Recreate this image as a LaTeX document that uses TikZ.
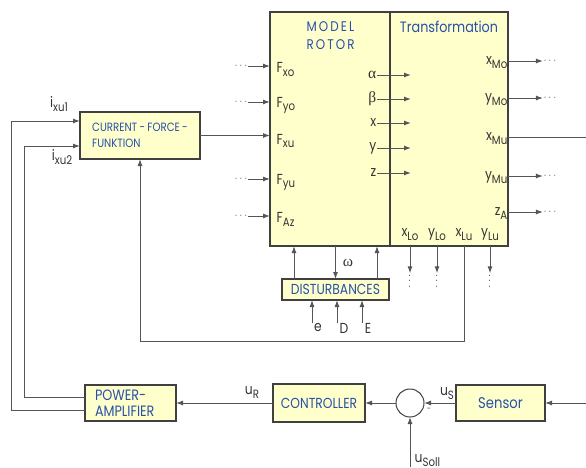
\documentclass[tikz,border=0pt]{standalone}
\usepackage{fontspec}
\setmainfont{Poppins}[FakeStretch=0.85]
\newfontfamily\bluefont{Poppins}[FakeStretch=0.85, WordSpace=0.85]
\newfontfamily\greekfont{Liberation Serif}
\usetikzlibrary{positioning,arrows.meta}
\definecolor{boxyellow}{RGB}{255,255,204}
\definecolor{textblue}{RGB}{40,80,170}
\definecolor{wiregray}{RGB}{85,85,85}
\newcommand{\lsub}[2]{#1\raisebox{-0.5ex}{\fontsize{12}{12}\selectfont #2}}

\begin{document}
\begin{tikzpicture}[
    x=1pt, y=-1pt,
    box/.style={draw=black!75, line width=1.6pt, fill=boxyellow, outer sep=0pt, inner sep=0pt, text=textblue, font=\bluefont\fontsize{14.5}{17}\selectfont},
    sig/.style={inner sep=0.5pt, text=black!80, font=\fontsize{14.5}{16}\selectfont},
    greek/.style={inner sep=0.5pt, text=black!80, font=\greekfont\fontsize{15.5}{16}\selectfont},
    arrow/.style={-{Latex[length=7pt,width=5pt]}, wiregray, line width=1pt},
    wire/.style={wiregray, line width=1pt},
]
\useasboundingbox (0,0) rectangle (586,467);

\node[box, minimum width=120pt, minimum height=234pt] (rotor) at (330,129) {};
\node[box, minimum width=118pt, minimum height=234pt, right=0pt of rotor] (trafo) {};
\node[anchor=west, align=left, text=textblue, font=\fontsize{14}{18}\selectfont\addfontfeature{LetterSpace=15}] (rotortitle) at (303,36) {MODEL\\ROTOR};
\node[text=textblue, font=\fontsize{15}{16}\selectfont] (trafotitle) at (449,27) {Transformation};

\node[box, minimum width=120pt, minimum height=47pt, align=left, font=\bluefont\fontsize{12}{16}\selectfont] (cf) at (140,135.5) {CURRENT - FORCE -\\FUNKTION};

\foreach \nm/\sb/\yy in {xo/xo/66, yo/yo/102, yu/yu/179, Az/Az/216}{
  \node[sig, text=black!65, font=\fontsize{11}{11}\selectfont] (dots\nm) at (241,\yy) {$\cdots$};
  \node[sig, anchor=west] (F\nm) at (276,\yy+3.5) {\lsub{F}{\sb}};
  \draw[arrow] (dots\nm) -- (dots\nm -| rotor.west);
}
\node[sig, anchor=west] (Fxu) at (276,141) {\lsub{F}{xu}};
\draw[arrow] (cf) -- (cf -| rotor.west);

\foreach \nm/\txt/\yy in {al/{α}/75, be/{β}/99}{
  \node[greek, anchor=east] (s\nm) at (377,\yy) {\txt};
  \coordinate (t\nm) at (411,\yy);
  \draw[arrow] (s\nm) -- (t\nm);
}
\foreach \nm/\yy in {x/123, y/148, z/173}{
  \node[sig, anchor=east] (s\nm) at (377,\yy) {\nm};
  \coordinate (t\nm) at (411,\yy);
  \draw[arrow] (s\nm) -- (t\nm);
}

\foreach \nm/\a/\b/\yy in {xMo/x/Mo/61, yMo/y/Mo/98, yMu/y/Mu/176, zA/z/A/212}{
  \node[sig, anchor=east] (\nm) at (508,\yy+1.5) {\lsub{\a}{\b}};
  \node[sig, text=black!65, font=\fontsize{11}{11}\selectfont] (dots\nm) at (550,\yy) {$\cdots$};
  \draw[arrow] (trafo.east |- dots\nm) -- (dots\nm);
}
\node[sig, anchor=east] (xMu) at (508,138.5) {\lsub{x}{Mu}};
\coordinate (xMuout) at (586,137);
\draw[wire] (trafo.east |- xMuout) -- (xMuout);

\foreach \nm/\a/\b/\xx in {xLo/x/Lo/410, yLo/y/Lo/437, xLu/x/Lu/464, yLu/y/Lu/490}{
  \node[sig] (\nm) at (\xx,235) {\lsub{\a}{\b}};
}
\foreach \nm in {xLo, yLo, yLu}{
  \node[sig, rotate=90, text=black!65, font=\fontsize{12}{12}\selectfont] (vd\nm) at (\nm |- 0,281) {$\cdots$};
  \draw[arrow] (trafo.south -| \nm) -- (vd\nm.east);
}

\coordinate (fb) at (140,341);
\draw[arrow] (trafo.south -| xLu) |- (fb) -- (cf.south);

\node[box, minimum width=107pt, minimum height=21pt] (dist) at (335.5,289.5) {DISTURBANCES};
\draw[arrow] ([xshift=12pt]dist.north west) -- ([xshift=12pt]dist.north west |- rotor.south);
\draw[arrow] ([xshift=-12pt]dist.north east) -- ([xshift=-12pt]dist.north east |- rotor.south);
\draw[arrow] (rotor.south -| dist) -- (dist.north);
\node[greek] (omega) at (348,263) {ω};
\foreach \nm/\xx/\lx in {e/312/318, D/337/344, E/362/368}{
  \node[sig] (in\nm) at (\lx,328) {\nm};
  \coordinate (src\nm) at (\xx,323);
  \draw[arrow] (src\nm) -- (src\nm |- dist.south);
}

\node[box, minimum width=91pt, minimum height=36pt, text width=71pt, align=left, font=\bluefont\fontsize{15}{16.5}\selectfont] (amp) at (130.5,403) {POWER-\\AMPLIFIER};
\node[box, minimum width=92pt, minimum height=38pt, right=97pt of amp] (ctrl) {CONTROLLER};
\node[circle, draw=black!75, line width=1pt, fill=white, minimum size=28pt, inner sep=0pt, outer sep=0pt, right=31pt of ctrl] (sum) {};
\node[box, minimum width=89pt, minimum height=36pt, right=32pt of sum, font=\bluefont\fontsize{15.5}{17}\selectfont] (sensor) {Sensor};

\coordinate (meas) at (586,403);
\coordinate (soll) at (410,467);
\draw[arrow] (meas) -- (sensor);
\draw[arrow] (sensor) -- (sum);
\draw[arrow] (sum) -- (ctrl);
\draw[arrow] (ctrl) -- (amp);
\draw[arrow] (soll) -- (sum);
\node[sig] (uR) at (252,393) {\lsub{u}{R}};
\node[sig] (uS) at (447,394) {\lsub{u}{S}};
\node[sig, font=\fontsize{8}{8}\selectfont] (minus) at (429,410) {-};
\node[sig, anchor=west] (uSoll) at (414,461) {\lsub{u}{Soll}};

\coordinate (ret1) at (11,121);
\coordinate (ret2) at (24,146);
\draw[arrow] ([yshift=-7pt]amp.west) -| (ret1) -- (ret1 -| cf.west);
\draw[arrow] ([yshift=6pt]amp.west) -| (ret2) -- (ret2 -| cf.west);
\node[sig] (i1) at (59,104) {\lsub{i}{xu1}};
\node[sig] (i2) at (62,157) {\lsub{i}{xu2}};
\end{tikzpicture}
\end{document}
